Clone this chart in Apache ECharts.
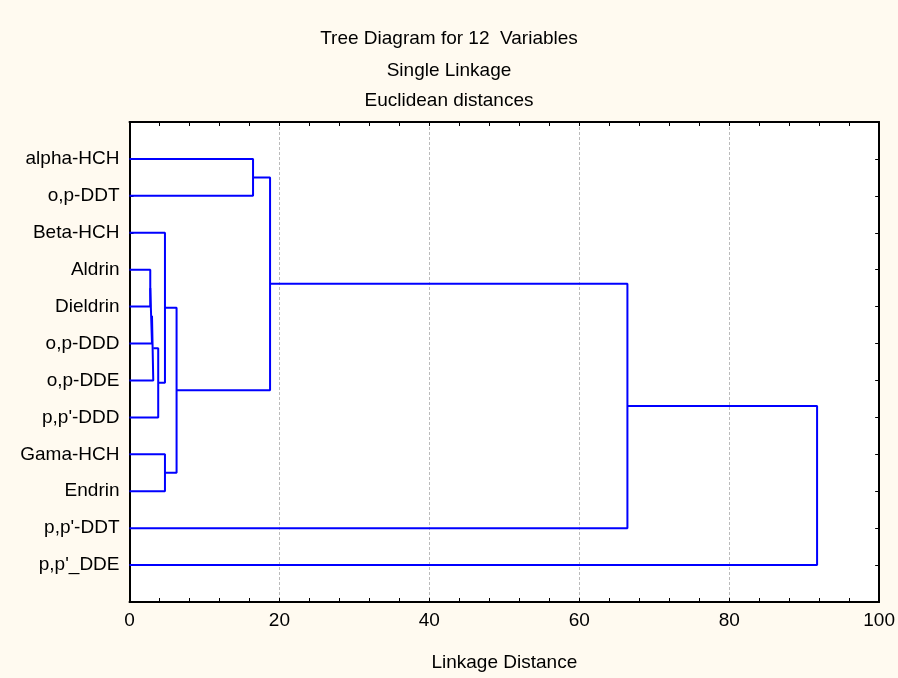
<!DOCTYPE html>
<html>
<head>
<meta charset="utf-8">
<script src="https://cdn.jsdelivr.net/npm/echarts@6/dist/echarts.min.js"></script>
<style>
html,body{margin:0;padding:0;background:#fffaf0;}
#c{width:898px;height:678px;}
</style>
</head>
<body>
<div id="c"></div>
<script>
// Leaf labels (top to bottom)
var leaves = ['alpha-HCH','o,p-DDT','Beta-HCH','Aldrin','Dieldrin','o,p-DDD','o,p-DDE',"p,p'-DDD",'Gama-HCH','Endrin',"p,p'-DDT","p,p'_DDE"];
// Merge steps: child A, child B (leaf index 0..11, cluster index 12+), linkage distance
var mergeA = [3, 12, 13, 14, 2, 8, 16, 0, 19, 20, 21];
var mergeB = [4, 5, 6, 7, 15, 9, 17, 1, 18, 10, 11];
var mergeDist = [2.77, 3.0, 3.17, 3.83, 4.73, 4.73, 6.28, 16.48, 18.75, 66.42, 91.72];
var xTicks = [0, 20, 40, 60, 80, 100];

var n = leaves.length;
var nodeY = [], nodeH = [];
for (var i = 0; i < n; i++) { nodeY.push(i + 1); nodeH.push(0); }
var series = [];
for (var k = 0; k < mergeDist.length; k++) {
  var a = mergeA[k], b = mergeB[k], d = mergeDist[k];
  series.push({
    type: 'line',
    symbol: 'none',
    animation: false,
    lineStyle: { color: '#0000ff', width: 2 },
    data: [[nodeH[a], nodeY[a]], [d, nodeY[a]], [d, nodeY[b]], [nodeH[b], nodeY[b]]]
  });
  nodeY.push((nodeY[a] + nodeY[b]) / 2);
  nodeH.push(d);
}

var font = 'Arial, "Liberation Sans", sans-serif';
var chart = echarts.init(document.getElementById('c'));
var xBase = {
  type: 'value', min: xTicks[0], max: xTicks[xTicks.length - 1], interval: 20,
  axisLine: { onZero: false, lineStyle: { color: '#000', width: 2 } },
  axisTick: { inside: true, length: 4, lineStyle: { color: '#000', width: 1 } },
  minorTick: { show: true, splitNumber: 5, length: 4, lineStyle: { color: '#000', width: 1 } }
};
var yBase = {
  type: 'value', min: 0, max: n + 1, interval: 1, inverse: true,
  axisLine: { onZero: false, lineStyle: { color: '#000', width: 2 } },
  axisTick: { inside: true, length: 4, lineStyle: { color: '#000', width: 1 } },
  splitLine: { show: false }
};
chart.setOption({
  backgroundColor: '#fffaf0',
  animation: false,
  title: [
    { text: 'Tree Diagram for 12  Variables', left: 'center', top: 24, textStyle: { fontFamily: font, fontSize: 19, fontWeight: 'normal', color: '#000' } },
    { text: 'Single Linkage', left: 'center', top: 56, textStyle: { fontFamily: font, fontSize: 19, fontWeight: 'normal', color: '#000' } },
    { text: 'Euclidean distances', left: 'center', top: 86, textStyle: { fontFamily: font, fontSize: 19, fontWeight: 'normal', color: '#000' } }
  ],
  grid: { left: 129.5, right: 17.5, top: 122, bottom: 76, show: true, backgroundColor: '#ffffff', borderWidth: 0 },
  xAxis: [
    Object.assign({}, xBase, {
      position: 'bottom',
      name: 'Linkage Distance', nameLocation: 'middle', nameGap: 51,
      nameTextStyle: { fontFamily: font, fontSize: 19, color: '#000' },
      axisLabel: { fontFamily: font, fontSize: 19, color: '#000', margin: 9 },
      splitLine: { show: true, lineStyle: { color: '#bbbbbb', type: [3, 2], width: 1 } }
    }),
    Object.assign({}, xBase, {
      position: 'top',
      axisLabel: { show: false },
      splitLine: { show: false }
    })
  ],
  yAxis: [
    Object.assign({}, yBase, {
      position: 'left',
      axisLabel: {
        fontFamily: font, fontSize: 19, color: '#000', margin: 10,
        formatter: function (v) { return leaves[v - 1] || ''; }
      }
    }),
    Object.assign({}, yBase, {
      position: 'right',
      axisLabel: { show: false }
    })
  ],
  series: series
});
</script>
</body>
</html>
